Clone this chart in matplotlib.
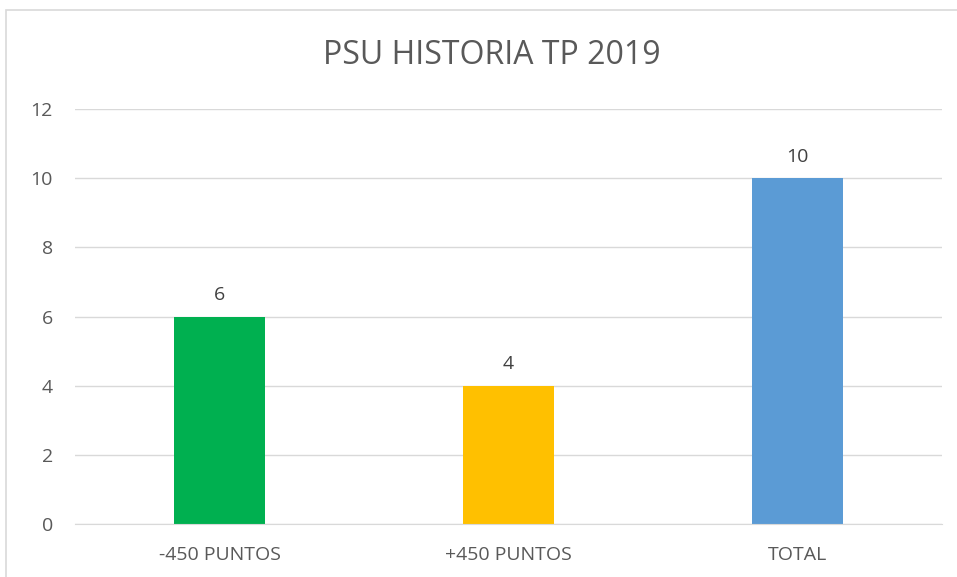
import matplotlib.pyplot as plt
from matplotlib.patches import Rectangle

categories = ["-450 PUNTOS", "+450 PUNTOS", "TOTAL"]
values = [6, 4, 10]
colors = ["#00B050", "#FFC000", "#5B9BD5"]
yticks = [0, 2, 4, 6, 8, 10, 12]

plt.rcParams['font.family'] = ['Open Sans', 'DejaVu Sans']

W, H = 957, 577
fig = plt.figure(figsize=(W / 100, H / 100), dpi=100)

# chart border (cut at right and bottom like the screenshot)
fig.patches.append(Rectangle((6 / W, -0.1), 1.2, 1 - 10 / H + 0.1,
                             transform=fig.transFigure, fill=False,
                             edgecolor="#D9D9D9", linewidth=1.2))

ax = fig.add_axes([75 / W, 1 - 524 / H, (942 - 75) / W, (524 - 109) / H])
x = range(len(categories))
bars = ax.bar(x, values, width=0.315, color=colors, zorder=3)
ax.bar_label(bars, labels=[str(v) for v in values], padding=9,
             fontsize=14, color="#404040")

ax.set_xlim(-0.5, 2.5)
ax.set_ylim(0, 12)
ax.set_yticks(yticks)
ax.set_xticks(list(x))
ax.set_xticklabels(categories)
ax.grid(axis="y", color="#D9D9D9", linewidth=1, zorder=0)
for s in ax.spines.values():
    s.set_visible(False)
ax.spines["bottom"].set_visible(True)
ax.spines["bottom"].set_color("#D9D9D9")
ax.spines["bottom"].set_zorder(4)
ax.tick_params(axis="both", length=0, labelsize=14, labelcolor="#595959")
ax.tick_params(axis="y", pad=16)
ax.tick_params(axis="x", pad=16)

fig.text(492 / W, 1 - 55 / H, "PSU HISTORIA TP 2019", ha="center",
         va="center", fontsize=23, color="#595959")

fig.savefig("out.png", dpi=100)
